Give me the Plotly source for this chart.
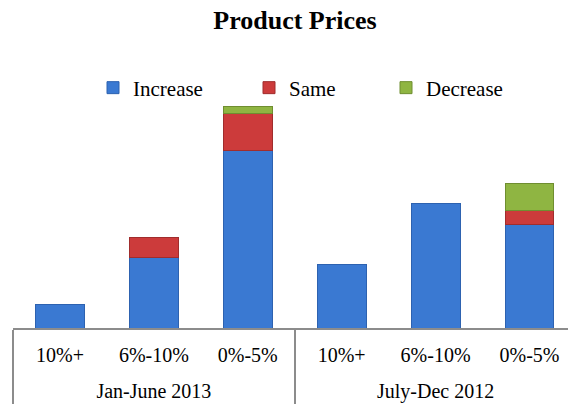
import plotly.graph_objects as go

periods = ["Jan-June 2013", "July-Dec 2012"]
ranges = ["10%+", "6%-10%", "0%-5%"] * 2
increase = [7, 21, 53, 19, 37, 31]
same = [None, 6, 11, None, None, 4]
decrease = [None, None, 2, None, None, 8]

positions = list(range(len(ranges)))
period_centers = [1, 4]
period_edges = [-0.5, 2.5, 5.5]

series = [
    ("Increase", increase, "#3A79D2", "#2D62B0", "legend"),
    ("Same", same, "#CC3B3B", "#A02D2D", "legend2"),
    ("Decrease", decrease, "#8FB542", "#6F8E30", "legend3"),
]

FONT = "Liberation Serif, Times New Roman, serif"
W, H = 568, 404
TOP, BASE = 100, 328
plot_h = H - TOP

fig = go.Figure()
for name, vals, col, line, lg in series:
    fig.add_trace(go.Bar(
        x=positions, y=vals, name=name,
        marker=dict(color=col, line=dict(color=line, width=1)),
        legend=lg, showlegend=True,
    ))

# carrier for the period (group) label axis
fig.add_trace(go.Scatter(x=period_centers, y=[None, None], xaxis="x2",
                         mode="markers", showlegend=False, hoverinfo="skip"))

leg_common = dict(orientation="h", xref="container", yref="container",
                  yanchor="middle", font=dict(family=FONT, size=21, color="#000"),
                  bgcolor="rgba(0,0,0,0)", itemwidth=30, tracegroupgap=0)
legend_px = [93, 249, 386]

xrange = [-0.5, 5.41]
fig.update_layout(
    width=W, height=H,
    barmode="stack", bargap=0.48,
    showlegend=True,
    plot_bgcolor="white", paper_bgcolor="white",
    margin=dict(l=13, r=0, t=TOP, b=0, autoexpand=False),
    title=dict(text="<b>Product Prices</b>", x=295 / W, xanchor="center",
               y=1 - 20 / H, yanchor="middle",
               font=dict(family=FONT, size=26, color="#000")),
    legend=dict(x=legend_px[0] / W, y=1 - 88 / H, **leg_common),
    legend2=dict(x=legend_px[1] / W, y=1 - 88 / H, **leg_common),
    legend3=dict(x=legend_px[2] / W, y=1 - 88 / H, **leg_common),
    xaxis=dict(range=xrange, tickmode="array", tickvals=positions, ticktext=ranges,
               showline=True, linecolor="#8C8C8C", linewidth=1.5,
               ticks="", ticklabelstandoff=8,
               minor=dict(tickmode="array", tickvals=period_edges, ticks="outside",
                          ticklen=H - BASE, tickcolor="#8C8C8C", tickwidth=1.5),
               tickfont=dict(family=FONT, size=20, color="#000"),
               showgrid=False, zeroline=False),
    xaxis2=dict(range=xrange, overlaying="x", anchor="free",
                position=(H - 377) / plot_h, side="bottom",
                tickmode="array", tickvals=period_centers, ticktext=periods,
                ticks="", showline=False, showgrid=False, zeroline=False,
                tickfont=dict(family=FONT, size=20, color="#000")),
    yaxis=dict(range=[0, 68], domain=[(H - BASE) / plot_h, 1],
               visible=False, showgrid=False),
)

fig.write_html("out.html")
